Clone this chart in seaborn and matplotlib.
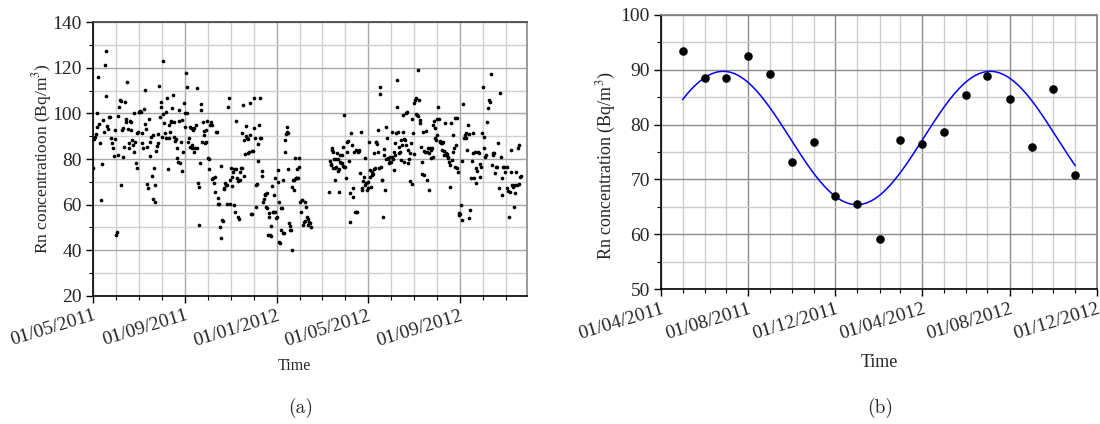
import numpy as np
import pandas as pd
import matplotlib
matplotlib.use("Agg")
import matplotlib.pyplot as plt
import matplotlib.dates as mdates
from matplotlib.ticker import MultipleLocator
import seaborn as sns

# --- DATA: daily Rn concentration (Bq/m3), month by month ---
may_2011 = [76.2, 88.8, 89.5, 91.0, 100.3, 94.0, 115.8, 95.2, 86.9, 62.0, 77.7, 97.2, 92.0,
            121.2, 127.4, 107.7, 94.3, 93.3, 98.5, 98.3, 89.3, 86.9, 85.0, 81.3, 92.7, 88.8]
jun_2011 = [46.7, 48.2, 81.8, 98.8, 102.9, 105.8, 105.4, 68.5, 92.7, 93.4, 80.7, 85.4, 104.8,
            97.5, 96.4, 113.6, 93.1, 86.9, 84.7, 96.8, 96.4, 92.7, 88.3, 86.1, 100.3, 82.9,
            87.6, 78.4, 91.4, 75.9, 91.7]
jul_2011 = [100.7, 100.7, 101.0, 100.7, 91.4, 86.9, 84.7, 101.9, 110.2, 95.2, 93.0, 85.4, 68.9,
            67.2, 97.5, 87.6, 81.5, 89.8, 72.7, 62.4, 90.5, 75.9, 68.6, 61.3, 83.6, 85.8, 90.9,
            86.9, 111.8, 98.3, 102.9, 104.8]
aug_2011 = [89.8, 122.9, 99.6, 95.6, 91.4, 89.3, 100.4, 106.6, 75.6, 89.3, 94.9, 92.0, 96.1,
            96.6, 102.2, 108.0, 89.8, 96.4, 87.9, 88.8, 84.7, 80.6, 78.8, 101.5, 96.8, 78.1,
            87.6, 97.1, 74.9, 83.2, 104.7, 100.0]
sep_2011 = [94.2, 117.5, 111.7, 100.3, 87.6, 89.1, 94.2, 85.4, 93.4, 84.7, 86.1, 92.7, 83.2,
            93.4, 85.0, 94.9, 84.7, 111.0, 69.3, 51.1, 67.6, 78.4, 101.5, 103.9, 87.6, 96.4,
            90.5, 92.3, 86.9, 92.7, 87.3, 96.6]
oct_2011 = [80.6, 79.9, 75.7, 94.9, 96.1, 94.9, 71.2, 71.8, 69.3, 72.3, 65.7, 92.0, 92.0, 63.1,
            60.1, 60.1, 50.4, 77.1, 45.3, 53.3, 52.8, 66.9, 67.4, 69.3, 68.6, 60.1, 68.6, 102.9,
            106.6, 70.8, 60.1]
nov_2011 = [75.9, 72.3, 68.3, 74.5, 75.7, 59.9, 56.9, 75.7, 96.6, 71.5, 70.4, 54.7, 53.7, 74.5,
            70.8, 75.9, 75.9, 91.5, 103.5, 88.3, 72.6, 82.0, 94.5, 90.2, 89.1, 82.5, 88.8, 83.2,
            90.5, 104.4, 55.8, 83.6, 55.8, 83.6]
dec_2011 = [106.6, 93.7, 89.1, 68.6, 59.1, 68.9, 79.3, 86.5, 94.9, 106.6, 89.3, 89.1, 72.7,
            74.9, 61.3, 62.5, 64.5, 64.2, 59.1, 65.0, 58.7, 46.7, 56.4, 54.7, 46.7, 46.4, 50.8,
            68.3, 56.9, 56.6, 64.2, 56.9, 71.8, 54.0]
jan_2012 = [54.7, 75.2, 70.1, 61.3, 43.8, 43.1, 49.0, 58.4, 58.7, 70.9, 47.6, 47.6, 88.3, 82.9,
            90.8, 92.0, 94.2, 91.4, 75.7, 51.8, 50.8, 49.0, 49.0, 40.1, 67.9, 70.8, 66.4, 70.8,
            80.3, 71.5, 71.8, 75.7, 71.5, 71.5, 76.6, 80.3]
feb_2012 = [61.0, 56.9, 62.0, 62.0, 51.1, 52.6, 52.8, 61.3, 59.1, 54.7, 51.1, 53.7, 52.3, 51.8,
            50.4]
mar_2012 = [65.4, 79.3, 77.7, 77.4, 83.9, 84.7, 83.2, 75.9, 80.0, 75.9, 70.9, 80.0, 76.6, 82.5,
            74.9, 80.0, 65.4, 75.7, 81.8, 78.8, 78.1, 81.8, 78.2, 76.9, 85.4, 76.6, 99.3]
apr_2012 = [76.6, 71.5, 87.6, 83.2, 87.9, 79.1, 52.6, 65.0, 91.4, 86.1, 67.2, 63.5, 83.2, 56.9,
            56.9, 83.9, 56.9, 83.2, 83.6, 83.9, 73.7, 92.0, 66.4, 67.2, 70.4, 72.3, 68.6, 80.3,
            69.3, 66.4]
may_2012 = [70.1, 67.4, 87.6, 75.2, 72.3, 67.9, 74.5, 73.0, 73.3, 82.5, 75.7, 75.9, 87.6, 87.6,
            86.4, 83.2, 92.7, 76.1, 111.7, 108.3, 76.6, 70.8, 70.9, 54.7, 81.8, 84.4, 66.4,
            94.2, 80.0, 89.1, 80.0, 80.3, 78.1, 78.8, 80.9]
jun_2012 = [78.8, 91.7, 80.7, 80.0, 83.2, 75.2, 81.8, 86.9, 91.4, 114.6, 102.9, 92.0, 85.4,
            82.8, 83.2, 79.6, 88.3, 86.1, 92.0, 99.3, 88.8, 78.8, 88.3, 86.1, 100.3, 100.4,
            83.9, 78.1, 80.0, 82.5, 70.4, 86.9, 97.5, 68.9, 91.4]
jul_2012 = [104.4, 82.0, 105.8, 99.6, 106.9, 99.3, 119.0, 99.0, 105.8, 97.1, 95.6, 85.4, 78.8,
            73.3, 92.0, 73.0, 83.6, 82.9, 92.3, 83.2, 70.8, 84.7, 66.4, 82.5, 85.0, 80.6, 83.9,
            84.7, 81.0, 94.9, 96.6, 93.4, 89.1, 88.3]
aug_2012 = [90.5, 97.4, 102.9, 97.5, 87.9, 87.6, 86.9, 86.9, 83.9, 87.6, 83.6, 81.8, 95.6,
            82.5, 81.8, 82.0, 81.0, 80.3, 78.8, 67.9, 77.4, 95.6, 79.6, 83.2, 90.5, 84.7, 76.6,
            97.8, 86.1, 75.9, 97.8, 74.5, 55.5, 56.2]
sep_2012 = [55.8, 59.9, 53.3, 79.1, 103.9, 89.1, 90.5, 89.3, 91.2, 83.9, 94.9, 90.8, 54.0,
            57.7, 71.5, 79.1, 82.5, 91.4, 71.5, 82.9, 69.3, 75.9, 74.9, 82.9, 82.5, 77.7, 72.3,
            76.6, 91.4]
oct_2012 = [111.7, 84.7, 89.8, 81.0, 81.8, 96.4, 102.2, 105.8, 105.1, 117.3, 77.4, 81.8, 82.5,
            82.5, 73.7, 76.6, 76.6, 86.9, 67.2, 109.0, 81.0, 71.5, 64.2, 76.6, 76.6, 74.5]
nov_2012 = [76.6, 67.2, 66.0, 54.4, 65.7, 74.2, 83.9, 68.6, 67.9, 59.1, 68.6, 65.0, 74.5, 68.6,
            84.7, 86.1, 68.9, 72.3, 72.6]

# first and last day covered by each month's readings
segments = [
    ("2011-05-01", "2011-05-31", may_2011), ("2011-06-01", "2011-06-30", jun_2011),
    ("2011-07-01", "2011-07-31", jul_2011), ("2011-08-01", "2011-08-31", aug_2011),
    ("2011-09-01", "2011-09-30", sep_2011), ("2011-10-01", "2011-10-31", oct_2011),
    ("2011-11-01", "2011-11-30", nov_2011), ("2011-12-01", "2011-12-31", dec_2011),
    ("2012-01-01", "2012-01-31", jan_2012), ("2012-02-01", "2012-02-15", feb_2012),
    ("2012-03-11", "2012-03-31", mar_2012), ("2012-04-01", "2012-04-30", apr_2012),
    ("2012-05-01", "2012-05-31", may_2012), ("2012-06-01", "2012-06-30", jun_2012),
    ("2012-07-01", "2012-07-31", jul_2012), ("2012-08-01", "2012-08-31", aug_2012),
    ("2012-09-01", "2012-09-30", sep_2012), ("2012-10-01", "2012-10-31", oct_2012),
    ("2012-11-02", "2012-11-21", nov_2012),
]

# --- DATA: monthly means, panel (b) ---
monthly_dates = pd.date_range("2011-05-01", "2012-11-01", freq="MS")
monthly_rn = [93.5, 88.5, 88.4, 92.5, 89.3, 73.2, 76.9, 66.9, 65.5, 59.2, 77.2, 76.5, 78.7,
              85.4, 88.9, 84.7, 76.0, 86.4, 70.8]

# sine fit parameters
fit_offset = 77.55
fit_amp = 12.15
fit_period_days = 374
fit_peak = pd.Timestamp("2011-06-27")

daily = pd.concat([
    pd.DataFrame({"date": pd.date_range(a, b, periods=len(v)), "rn": v})
    for a, b, v in segments
])

fit_dates = pd.date_range("2011-05-01", "2012-11-01", freq="D")
fit_days = (fit_dates - fit_peak).days.values
fit_rn = fit_offset + fit_amp * np.cos(2 * np.pi * fit_days / fit_period_days)

# --- STYLE ---
sns.set_theme(style="ticks")
plt.rcParams["font.family"] = ["Liberation Serif", "DejaVu Serif"]
plt.rcParams["mathtext.fontset"] = "stix"

fig = plt.figure(figsize=(11, 4.24), dpi=100)
ax1 = fig.add_axes([0.0845, 0.302, 0.3945, 0.646])
ax2 = fig.add_axes([0.601, 0.318, 0.396, 0.647])

# --- (a) daily data ---
sns.scatterplot(data=daily, x="date", y="rn", ax=ax1, color="black", s=7,
                linewidth=0, zorder=3, legend=False)
ax1.set_xlim(pd.Timestamp("2011-05-01"), pd.Timestamp("2012-11-29"))
ax1.set_ylim(20, 140)
ax1.xaxis.set_major_locator(mdates.MonthLocator(bymonth=[1, 5, 9]))
ax1.xaxis.set_minor_locator(mdates.MonthLocator())
ax1.yaxis.set_major_locator(MultipleLocator(20))
ax1.yaxis.set_minor_locator(MultipleLocator(10))
ax1.grid(which="major", color="#a8a8a8", lw=1.0)
ax1.grid(which="minor", color="#d0d0d0", lw=1.0)
ax1.set_ylabel("Rn concentratioon (Bq/m$^3$)", fontsize=12.5)
ax1.set_xlabel("Time", fontsize=11.5)
ax1.xaxis.set_label_coords(0.465, -0.225)
ax1.yaxis.set_label_coords(-0.09, 0.5)
for side, col in [("left", "black"), ("bottom", "black"), ("top", "#404040"), ("right", "#8a8a8a")]:
    ax1.spines[side].set_color(col)
    ax1.spines[side].set_linewidth(1.2)

# --- (b) monthly means with sine fit ---
sns.scatterplot(x=monthly_dates, y=monthly_rn, ax=ax2, color="black", s=38,
                linewidth=0, zorder=4, legend=False)
sns.lineplot(x=fit_dates, y=fit_rn, ax=ax2, color="#0000ff", lw=1.1, zorder=3)
ax2.set_xlim(pd.Timestamp("2011-04-01"), pd.Timestamp("2012-12-01"))
ax2.set_ylim(50, 100)
ax2.xaxis.set_major_locator(mdates.MonthLocator(bymonth=[4, 8, 12]))
ax2.xaxis.set_minor_locator(mdates.MonthLocator())
ax2.yaxis.set_major_locator(MultipleLocator(10))
ax2.yaxis.set_minor_locator(MultipleLocator(5))
ax2.grid(which="major", color="#8c8c8c", lw=1.0)
ax2.grid(which="minor", color="#cccccc", lw=1.0)
ax2.set_ylabel("Rn concentration (Bq/m$^3$)", fontsize=13)
ax2.set_xlabel("Time", fontsize=13)
ax2.xaxis.set_label_coords(0.5, -0.235)
ax2.yaxis.set_label_coords(-0.1, 0.45)
for side, col in [("left", "black"), ("bottom", "black"), ("top", "#808080"), ("right", "#808080")]:
    ax2.spines[side].set_color(col)
    ax2.spines[side].set_linewidth(1.2)

for ax in (ax1, ax2):
    ax.xaxis.set_major_formatter(mdates.DateFormatter("%d/%m/%Y"))
    ax.tick_params(which="major", direction="out", length=5, width=1, color="black",
                   labelsize=14, pad=3)
    ax.tick_params(which="minor", direction="out", length=3, width=0.8, color="black")
    ax.tick_params(axis="x", which="minor", bottom=True)
    for lab in ax.get_xticklabels():
        lab.set_rotation(17)
        lab.set_ha("right")
        lab.set_va("top")
        lab.set_rotation_mode("anchor")
    ax.set_axisbelow(True)

fig.text(0.273, 0.038, "(a)", family="cmr10", fontsize=14, ha="center", va="center")
fig.text(0.800, 0.038, "(b)", family="cmr10", fontsize=14, ha="center", va="center")

fig.savefig("out.png", dpi=100)
